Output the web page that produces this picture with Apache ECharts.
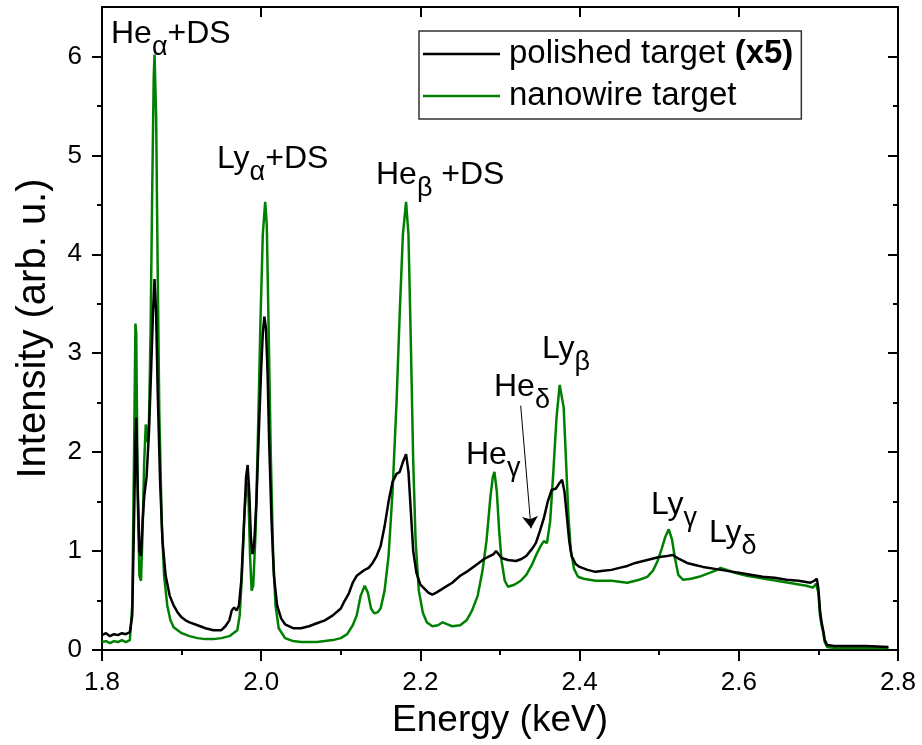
<!DOCTYPE html>
<html>
<head>
<meta charset="utf-8">
<script src="https://cdn.jsdelivr.net/npm/echarts@6/dist/echarts.min.js"></script>
<style>html,body{margin:0;padding:0;background:#fff}#c{width:922px;height:745px}</style>
</head>
<body>
<div id="c"></div>
<script>
// ---- data ----
const seriesNames = ['polished target', 'nanowire target'];
const xTicks = [1.8, 2.0, 2.2, 2.4, 2.6, 2.8];
const yTicks = [0, 1, 2, 3, 4, 5, 6];
const yMinorTicks = [0.5, 1.5, 2.5, 3.5, 4.5, 5.5];

const polishedE = [1.800,1.805,1.810,1.815,1.820,1.825,1.830,1.835,1.838,1.840,1.842,1.843,1.845,1.847,1.849,1.851,1.853,1.856,1.859,1.862,1.864,1.866,1.868,1.870,1.873,1.876,1.880,1.885,1.890,1.895,1.900,1.905,1.910,1.920,1.930,1.940,1.950,1.955,1.960,1.963,1.966,1.969,1.972,1.975,1.978,1.981,1.983,1.985,1.987,1.989,1.991,1.994,1.997,2.000,2.002,2.004,2.006,2.008,2.010,2.013,2.016,2.020,2.025,2.030,2.040,2.050,2.060,2.070,2.080,2.090,2.100,2.105,2.110,2.115,2.120,2.125,2.130,2.135,2.140,2.145,2.150,2.155,2.160,2.165,2.170,2.174,2.178,2.182,2.185,2.188,2.191,2.195,2.200,2.205,2.210,2.215,2.220,2.230,2.240,2.250,2.260,2.270,2.280,2.287,2.292,2.295,2.298,2.302,2.310,2.320,2.327,2.333,2.340,2.345,2.350,2.355,2.360,2.365,2.370,2.374,2.378,2.381,2.384,2.387,2.390,2.395,2.400,2.410,2.420,2.430,2.440,2.450,2.460,2.470,2.480,2.490,2.500,2.510,2.517,2.525,2.535,2.545,2.555,2.570,2.585,2.600,2.615,2.630,2.645,2.660,2.675,2.690,2.695,2.698,2.700,2.702,2.704,2.706,2.708,2.711,2.720,2.740,2.760,2.788];
const polishedI = [0.15,0.17,0.14,0.16,0.15,0.17,0.16,0.18,0.35,1.20,2.10,2.35,1.60,1.00,0.95,1.30,1.55,1.75,2.20,2.90,3.40,3.75,3.40,2.60,1.70,1.10,0.75,0.55,0.45,0.38,0.33,0.30,0.28,0.25,0.22,0.20,0.20,0.24,0.30,0.40,0.43,0.40,0.45,0.70,1.20,1.75,1.87,1.60,1.15,0.97,1.05,1.50,2.20,2.85,3.20,3.37,3.25,2.80,2.10,1.30,0.75,0.45,0.32,0.26,0.22,0.22,0.24,0.27,0.30,0.35,0.42,0.50,0.57,0.68,0.75,0.78,0.81,0.83,0.88,0.95,1.05,1.25,1.50,1.70,1.78,1.80,1.90,1.98,1.80,1.40,1.00,0.78,0.66,0.62,0.58,0.56,0.58,0.63,0.68,0.75,0.80,0.86,0.92,0.95,0.97,1.00,0.97,0.93,0.91,0.90,0.92,0.95,1.02,1.08,1.20,1.33,1.50,1.62,1.63,1.68,1.72,1.60,1.35,1.10,0.95,0.87,0.84,0.81,0.79,0.80,0.81,0.83,0.85,0.88,0.90,0.92,0.94,0.95,0.96,0.92,0.88,0.86,0.84,0.82,0.80,0.78,0.76,0.74,0.73,0.71,0.70,0.68,0.70,0.72,0.62,0.40,0.28,0.20,0.10,0.05,0.04,0.04,0.04,0.03];

const nanowireE = [1.800,1.805,1.810,1.815,1.820,1.825,1.830,1.835,1.838,1.840,1.842,1.843,1.845,1.847,1.849,1.851,1.853,1.855,1.857,1.859,1.861,1.863,1.865,1.866,1.868,1.870,1.872,1.875,1.878,1.882,1.886,1.890,1.900,1.910,1.920,1.930,1.940,1.950,1.960,1.965,1.970,1.973,1.976,1.979,1.982,1.984,1.986,1.988,1.990,1.993,1.996,1.999,2.002,2.005,2.007,2.009,2.012,2.015,2.018,2.022,2.030,2.040,2.050,2.060,2.070,2.080,2.090,2.100,2.108,2.115,2.120,2.125,2.130,2.134,2.138,2.142,2.146,2.150,2.155,2.160,2.165,2.170,2.174,2.178,2.182,2.185,2.188,2.191,2.194,2.198,2.203,2.208,2.215,2.222,2.228,2.234,2.240,2.250,2.258,2.265,2.272,2.278,2.283,2.288,2.291,2.293,2.296,2.299,2.302,2.306,2.310,2.318,2.326,2.333,2.340,2.346,2.351,2.355,2.359,2.363,2.367,2.371,2.375,2.377,2.380,2.383,2.386,2.389,2.393,2.398,2.405,2.420,2.440,2.460,2.475,2.485,2.492,2.498,2.503,2.508,2.512,2.516,2.520,2.524,2.530,2.540,2.550,2.560,2.570,2.577,2.585,2.595,2.610,2.625,2.640,2.655,2.670,2.685,2.693,2.697,2.700,2.702,2.704,2.706,2.708,2.711,2.720,2.740,2.760,2.788];
const nanowireI = [0.08,0.09,0.07,0.09,0.08,0.10,0.08,0.10,0.45,1.80,3.30,3.20,1.50,0.75,0.70,1.20,1.90,2.28,2.10,2.30,3.20,4.60,5.80,6.02,5.40,3.80,2.40,1.30,0.75,0.45,0.30,0.23,0.17,0.14,0.12,0.11,0.11,0.12,0.14,0.17,0.20,0.35,0.80,1.40,1.70,1.55,0.95,0.60,0.65,1.20,2.20,3.30,4.20,4.53,4.30,3.40,2.00,0.95,0.45,0.22,0.12,0.09,0.08,0.08,0.08,0.09,0.10,0.12,0.16,0.25,0.35,0.55,0.65,0.58,0.42,0.37,0.38,0.42,0.60,0.95,1.60,2.50,3.40,4.20,4.53,4.20,3.10,1.90,1.10,0.60,0.38,0.28,0.24,0.25,0.28,0.26,0.24,0.25,0.30,0.40,0.55,0.80,1.10,1.55,1.75,1.80,1.60,1.20,0.90,0.70,0.64,0.66,0.70,0.76,0.86,0.97,1.05,1.10,1.08,1.30,1.80,2.35,2.68,2.70,2.45,1.90,1.35,1.00,0.82,0.74,0.72,0.70,0.70,0.68,0.71,0.74,0.80,0.90,1.02,1.15,1.22,1.12,0.92,0.76,0.71,0.72,0.74,0.77,0.80,0.83,0.81,0.78,0.75,0.73,0.71,0.69,0.67,0.65,0.63,0.67,0.58,0.35,0.25,0.18,0.08,0.03,0.02,0.02,0.02,0.02];

const peakLabels = ['{m|He}{s|α}{m|+DS}', '{m|Ly}{s|α}{m|+DS}', '{m|He}{s|β}{m| +DS}', '{m|He}{s|γ}', '{m|He}{s|δ}', '{m|Ly}{s|β}', '{m|Ly}{s|γ}', '{m|Ly}{s|δ}'];
const arrowFrom = [2.326, 2.47];
const arrowTo = [2.339, 1.23];

// ---- chart ----
const FONT = 'Liberation Sans, Arial, Helvetica, sans-serif';
const zip = (a, b) => a.map((v, i) => [v, b[i]]);
const labelPos = [[111, 18], [217, 143], [376, 159], [466, 439], [494, 371], [542, 333], [651, 489], [709, 517]];
const rich = {
  m: { fontSize: 32, fontFamily: FONT, color: '#000', lineHeight: 34, verticalAlign: 'top' },
  s: { fontSize: 27, fontFamily: FONT, color: '#000', lineHeight: 27, padding: [16, 0, 0, 0], verticalAlign: 'top' }
};
const axisLine = { show: true, onZero: false, lineStyle: { color: '#000', width: 2 } };

const chart = echarts.init(document.getElementById('c'));
chart.setOption({
  animation: false,
  backgroundColor: '#fff',
  grid: { left: 102, right: 24, top: 7, bottom: 95, containLabel: false },
  legend: {
    data: seriesNames,
    orient: 'vertical',
    left: 419, top: 31,
    padding: [5, 8, 5, 4],
    itemGap: 6,
    icon: 'rect',
    itemWidth: 77, itemHeight: 2.5,
    borderColor: '#333', borderWidth: 1.5, borderRadius: 0,
    selectedMode: false,
    formatter: n => n === 'polished target' ? n + ' {b|(x5)}' : n,
    textStyle: {
      fontSize: 33, fontFamily: FONT, color: '#000', lineHeight: 36, padding: [0, 0, 0, 4],
      rich: { b: { fontSize: 33, fontFamily: FONT, fontWeight: 'bold', color: '#000', lineHeight: 36 } }
    }
  },
  xAxis: [
    {
      type: 'value', min: xTicks[0], max: xTicks[xTicks.length - 1], interval: 0.2,
      position: 'bottom',
      axisLine,
      axisTick: { show: true, inside: false, length: 11, lineStyle: { color: '#000', width: 2 } },
      minorTick: { show: true, splitNumber: 2, length: 5, lineStyle: { color: '#000', width: 2 } },
      splitLine: { show: false },
      axisLabel: { fontSize: 26, fontFamily: FONT, color: '#000', margin: 20, formatter: v => v.toFixed(1) },
      name: 'Energy (keV)', nameLocation: 'middle', nameGap: 52,
      nameTextStyle: { fontSize: 37, fontFamily: FONT, color: '#000' }
    },
    {
      type: 'value', min: xTicks[0], max: xTicks[xTicks.length - 1], interval: 0.2,
      position: 'top',
      axisLine,
      axisTick: { show: true, inside: true, length: 10, lineStyle: { color: '#000', width: 2 } },
      splitLine: { show: false },
      axisLabel: { show: false }
    }
  ],
  yAxis: [
    {
      type: 'value', min: 0, max: 6.5, interval: 0.5, position: 'left',
      axisLine,
      axisTick: { show: true, inside: false, length: 10, customValues: yTicks, lineStyle: { color: '#000', width: 2 } },
      splitLine: { show: false },
      axisLabel: { fontSize: 26, fontFamily: FONT, color: '#000', margin: 20, customValues: yTicks, formatter: v => String(v) },
      name: 'Intensity (arb. u.)', nameLocation: 'middle', nameGap: 48, nameRotate: 90,
      nameTextStyle: { fontSize: 40, fontFamily: FONT, color: '#000' }
    },
    {
      type: 'value', min: 0, max: 6.5, interval: 0.5, position: 'left',
      axisLine: { show: false },
      axisTick: { show: true, inside: false, length: 5, customValues: yMinorTicks, lineStyle: { color: '#000', width: 2 } },
      splitLine: { show: false }, axisLabel: { show: false }
    },
    {
      type: 'value', min: 0, max: 6.5, interval: 0.5, position: 'right',
      axisLine,
      axisTick: { show: true, inside: true, length: 10, customValues: yTicks, lineStyle: { color: '#000', width: 2 } },
      splitLine: { show: false }, axisLabel: { show: false }
    },
    {
      type: 'value', min: 0, max: 6.5, interval: 0.5, position: 'right',
      axisLine: { show: false },
      axisTick: { show: true, inside: true, length: 5, customValues: yMinorTicks, lineStyle: { color: '#000', width: 2 } },
      splitLine: { show: false }, axisLabel: { show: false }
    }
  ],
  series: [
    {
      name: seriesNames[1], type: 'line', xAxisIndex: 0, yAxisIndex: 0,
      data: zip(nanowireE, nanowireI), showSymbol: false, symbol: 'none',
      lineStyle: { color: '#008000', width: 2.5 }, itemStyle: { color: '#008000' },
      markLine: {
        silent: true, symbol: ['none', 'arrow'], symbolSize: 12,
        label: { show: false },
        lineStyle: { color: '#000', width: 1, type: 'solid' },
        data: [[{ coord: arrowFrom }, { coord: arrowTo }]]
      }
    },
    {
      name: seriesNames[0], type: 'line', xAxisIndex: 0, yAxisIndex: 0,
      data: zip(polishedE, polishedI), showSymbol: false, symbol: 'none',
      lineStyle: { color: '#000', width: 2.5 }, itemStyle: { color: '#000' }
    }
  ],
  graphic: peakLabels.map((t, i) => ({
    type: 'text', left: labelPos[i][0], top: labelPos[i][1], z: 100,
    style: { text: t, rich }
  }))
});
</script>
</body>
</html>
